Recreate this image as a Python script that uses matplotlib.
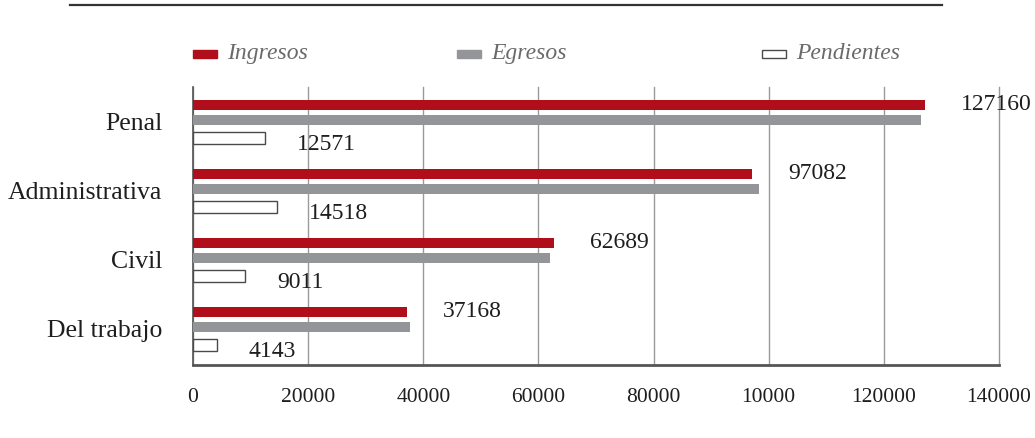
import numpy as np
import matplotlib
matplotlib.use("Agg")
import matplotlib.pyplot as plt
from matplotlib.patches import Rectangle
from matplotlib.lines import Line2D

# datos
categorias = ["Penal", "Administrativa", "Civil", "Del trabajo"]
ingresos = [127160, 97082, 62689, 37168]
egresos = [126500, 98400, 62000, 37700]
pendientes = [12571, 14518, 9011, 4143]
ticks = [0, 20000, 40000, 60000, 80000, 100000, 120000, 140000]
tick_labels = ["0", "20000", "40000", "60000", "80000", "10000", "120000", "140000"]

rojo = "#b00e1b"
gris = "#939598"
borde = "#4a4a4a"
texto = "#1e1e1e"
serif = "Liberation Serif"

fig = plt.figure(figsize=(10.35, 4.39), dpi=100)
ax = fig.add_axes([0.1865, 0.1663, 0.7787, 0.6333])

y = np.arange(len(categorias))
ax.barh(y - 0.22, ingresos, height=0.15, color=rojo, zorder=3)
ax.barh(y, egresos, height=0.15, color=gris, zorder=3)
ax.barh(y + 0.26, pendientes, height=0.17, color="white", edgecolor=borde,
        linewidth=1, zorder=3)

# etiquetas de valores
for i in range(len(categorias)):
    ax.annotate(str(ingresos[i]), (ingresos[i], y[i] - 0.22), xytext=(26, 1),
                textcoords="offset points", va="center", ha="left",
                fontsize=17, family=serif, color=texto)
    ax.annotate(str(pendientes[i]), (pendientes[i], y[i] + 0.26), xytext=(23, -4),
                textcoords="offset points", va="center", ha="left",
                fontsize=17, family=serif, color=texto)

ax.set_xlim(0, 140000)
ax.set_ylim(3.55, -0.48)
ax.set_xticks(ticks)
ax.set_xticklabels(tick_labels, family=serif, fontsize=15.5, color=texto)
ax.set_yticks(y)
ax.set_yticklabels(categorias, family=serif, fontsize=18.5, color=texto)
ax.tick_params(axis="x", length=0, pad=16)
ax.tick_params(axis="y", length=0, pad=22)

ax.grid(axis="x", color="#9a9a9a", linewidth=1, zorder=0)
for g in ax.get_xgridlines():
    g.set_clip_on(False)
for s in ["top", "right"]:
    ax.spines[s].set_visible(False)
ax.spines["left"].set_color("#555555")
ax.spines["left"].set_linewidth(1.2)
ax.spines["bottom"].set_color("#555555")
ax.spines["bottom"].set_linewidth(2)

# linea superior
fig.add_artist(Line2D([0.068, 0.910], [0.986, 0.986], color="#333333", linewidth=1.6))

# leyenda manual
leyenda = [("Ingresos", rojo, rojo, 0.1865), ("Egresos", gris, gris, 0.4415),
           ("Pendientes", "white", borde, 0.7365)]
for nombre, fc, ec, x0 in leyenda:
    fig.add_artist(Rectangle((x0, 0.866), 0.023, 0.018, facecolor=fc, edgecolor=ec,
                             linewidth=1, transform=fig.transFigure))
    fig.text(x0 + 0.033, 0.879, nombre, family=serif, style="italic", fontsize=17,
             color="#6a6a6a", va="center", ha="left")

fig.savefig("out.png", dpi=100)
